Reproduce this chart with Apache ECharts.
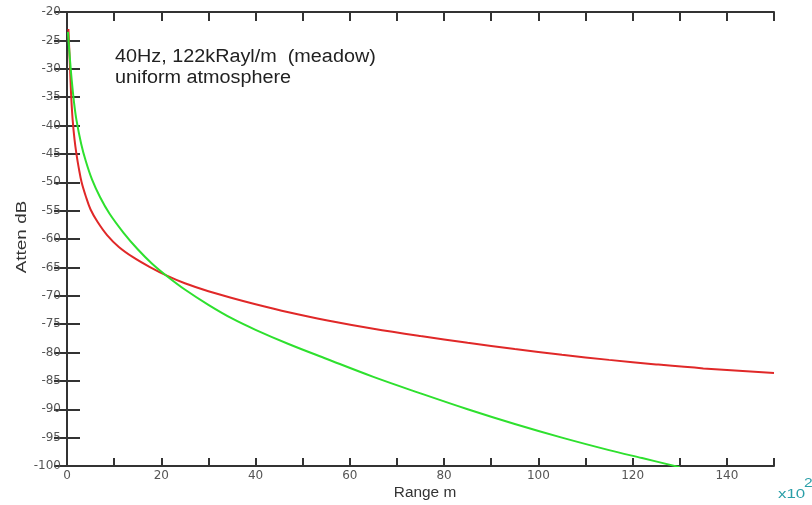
<!DOCTYPE html>
<html>
<head>
<meta charset="utf-8">
<script src="https://cdn.jsdelivr.net/npm/echarts@6/dist/echarts.min.js"></script>
<style>
  html, body { margin: 0; padding: 0; background: #fff; }
  #chart { width: 812px; height: 505px; }
</style>
</head>
<body>
<div id="chart"></div>
<script>
// Range in hundreds of metres (axis is scaled x10^2), attenuation in dB
const redRange = [0.3, 0.5, 0.7, 0.9, 1.2, 1.6, 2.0, 2.5, 3.1, 4.0, 5.0, 6.5, 8.5, 11, 14, 17.5, 21.3, 25, 30, 35, 40, 47, 55, 65, 75, 85, 95, 105, 115, 125, 135, 150];
const redAtten = [-23, -27, -31, -35, -39, -42.5, -45, -47.5, -50, -52.5, -54.8, -57, -59.3, -61.4, -63.2, -64.9, -66.5, -67.8, -69.2, -70.4, -71.5, -72.9, -74.3, -75.8, -77.1, -78.3, -79.4, -80.4, -81.3, -82.1, -82.8, -83.6];

const greenRange = [0.2, 0.5, 1.0, 1.5, 2.0, 3.0, 4.0, 5.3, 7.0, 9.0, 12, 15, 18, 21.3, 25, 30, 35, 40, 47, 55, 65, 75, 85, 95, 105, 115, 122, 130];
const greenAtten = [-23.5, -27, -32, -36, -39, -43.2, -46.3, -49.5, -52.6, -55.5, -58.9, -61.8, -64.3, -66.6, -68.9, -71.6, -74, -76, -78.5, -81.1, -84.3, -87.2, -90, -92.6, -95, -97.2, -98.6, -100.2];

const xTickStep = 10;
const xLabelStep = 20;
const yTickStep = 5;

const pair = (xs, ys) => xs.map((x, i) => [x, ys[i]]);

const FONT = 'Liberation Sans, Arial, sans-serif';
const axisLine = { show: true, lineStyle: { color: '#333', width: 2 } };
const tickStyle = { color: '#333', width: 2 };
const labelFont = { color: '#555', fontSize: 12, fontFamily: 'DejaVu Sans, sans-serif' };

const chart = echarts.init(document.getElementById('chart'));
chart.setOption({
  animation: false,
  backgroundColor: '#fff',
  grid: { left: 67, right: 38, top: 12, bottom: 39 },
  xAxis: [
    {
      type: 'value', position: 'bottom', min: 0, max: 150, interval: xTickStep,
      axisLine: axisLine,
      axisTick: { show: true, inside: true, length: 8, lineStyle: tickStyle },
      axisLabel: Object.assign({}, labelFont, {
        margin: 4,
        formatter: v => (v % xLabelStep === 0 ? String(v) : '')
      }),
      splitLine: { show: false }
    },
    {
      type: 'value', position: 'top', min: 0, max: 150, interval: xTickStep,
      axisLine: axisLine,
      axisTick: { show: true, inside: true, length: 9, lineStyle: tickStyle },
      axisLabel: { show: false },
      splitLine: { show: false }
    }
  ],
  yAxis: [
    {
      type: 'value', position: 'left', min: -100, max: -20, interval: yTickStep,
      axisLine: axisLine,
      axisTick: { show: true, inside: true, length: 13, lineStyle: tickStyle },
      axisLabel: Object.assign({}, labelFont, { margin: 6 }),
      splitLine: { show: false }
    },
    {
      type: 'value', position: 'right', min: -100, max: -20, interval: yTickStep,
      axisLine: axisLine,
      axisTick: { show: true, inside: true, length: 13, lineStyle: tickStyle },
      axisLabel: { show: false },
      splitLine: { show: false }
    }
  ],
  series: [
    {
      name: 'red', type: 'line', xAxisIndex: 0, yAxisIndex: 0,
      data: pair(redRange, redAtten),
      smooth: 0.35, showSymbol: false, clip: true,
      lineStyle: { color: '#e02828', width: 2 }
    },
    {
      name: 'green', type: 'line', xAxisIndex: 0, yAxisIndex: 0,
      data: pair(greenRange, greenAtten),
      smooth: 0.35, showSymbol: false, clip: true,
      lineStyle: { color: '#2ee02e', width: 2 }
    }
  ],
  graphic: [
    {
      type: 'text', x: 115, y: 47, scaleX: 1.1,
      style: {
        text: '40Hz, 122kRayl/m  (meadow)\nuniform atmosphere',
        fontSize: 18, lineHeight: 21, fill: '#222', fontFamily: FONT
      }
    },
    {
      type: 'text', x: 22, y: 237, rotation: Math.PI / 2, scaleX: 1.35,
      style: {
        text: 'Atten dB', fontSize: 14, fill: '#333', fontFamily: FONT,
        align: 'center', verticalAlign: 'middle'
      }
    },
    {
      type: 'text', x: 425, y: 493, scaleX: 1.1,
      style: {
        text: 'Range m', fontSize: 14, fill: '#333', fontFamily: FONT,
        align: 'center', verticalAlign: 'middle'
      }
    },
    {
      type: 'text', x: 778, y: 488, scaleX: 1.3,
      style: {
        text: 'x10', fontSize: 13, fill: '#2a9fa8', fontFamily: FONT,
        verticalAlign: 'top'
      }
    },
    {
      type: 'text', x: 804, y: 477, scaleX: 1.2,
      style: {
        text: '2', fontSize: 13, fill: '#2a9fa8', fontFamily: FONT,
        verticalAlign: 'top'
      }
    }
  ]
});
</script>
</body>
</html>
